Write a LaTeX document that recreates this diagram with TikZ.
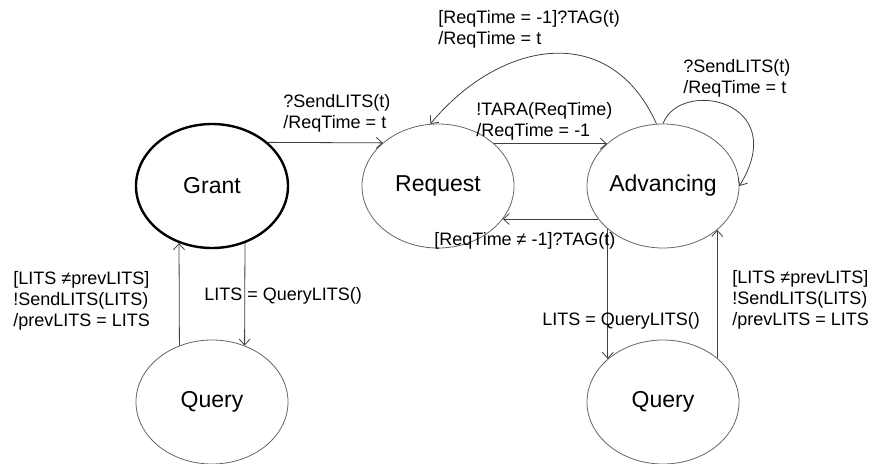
\documentclass[tikz,border=0pt]{standalone}
\usepackage{fontspec}
\setmainfont{Liberation Sans}
\usetikzlibrary{arrows.meta,shapes.geometric}

\begin{document}
\begin{tikzpicture}[x=1pt,y=-1pt,->,>={Straight Barb[length=6pt,width=11pt]},line width=0.8pt,
  main node/.style={ellipse,draw=black!60,minimum width=152pt,minimum height=124pt,inner sep=0pt,font=\fontsize{23}{27}\selectfont},
  trans text/.style={anchor=north west,inner sep=0pt,align=left,font=\fontsize{18}{21}\selectfont}]
  \useasboundingbox (0,0) rectangle (872,463);

  \node[main node,draw=black,line width=2.4pt] (G) at (212,186) {Grant};
  \node[main node] (R) at (438,186) {Request};
  \node[main node] (A) at (663,186) {Advancing};
  \node[main node] (Q1) at (212,402) {Query};
  \node[main node] (Q2) at (663,402) {Query};

\path[every edge/.style={draw=black!75}]
  (G.38) edge (R.142)
  (R.37) edge (A.143)
  (A.207) edge (R.333)
  (G.300) edge (Q1.60)
  (Q1.120) edge (G.240)
  (A.218) edge (Q2.142)
  (Q2.39) edge (A.321)
;
  % TAG back to Request, and the SendLITS loop
  \draw[black!75] (A.96) .. controls (610,20) and (500,40) .. (R.97);
  \draw[black!75] (A.90) .. controls (680,78) and (792,100) .. (A.0);

  \node[trans text] (l1) at (283,94) {?SendLITS(t)\\/ReqTime = t};
  \node[trans text] (l2) at (476,102) {!TARA(ReqTime)\\/ReqTime = -1};
  \node[trans text] (l3) at (438,10) {[ReqTime = -1]?TAG(t)\\/ReqTime = t};
  \node[trans text] (l4) at (683,59) {?SendLITS(t)\\/ReqTime = t};
  \node[trans text] (l5) at (434,232) {[ReqTime ≠ -1]?TAG(t)};
  \node[trans text] (l6) at (13,271) {[LITS ≠prevLITS]\\!SendLITS(LITS)\\/prevLITS = LITS};
  \node[trans text] (l7) at (204,287) {LITS = QueryLITS()};
  \node[trans text] (l8) at (542,312) {LITS = QueryLITS()};
  \node[trans text] (l9) at (732,270) {[LITS ≠prevLITS]\\!SendLITS(LITS)\\/prevLITS = LITS};
\end{tikzpicture}
\end{document}
